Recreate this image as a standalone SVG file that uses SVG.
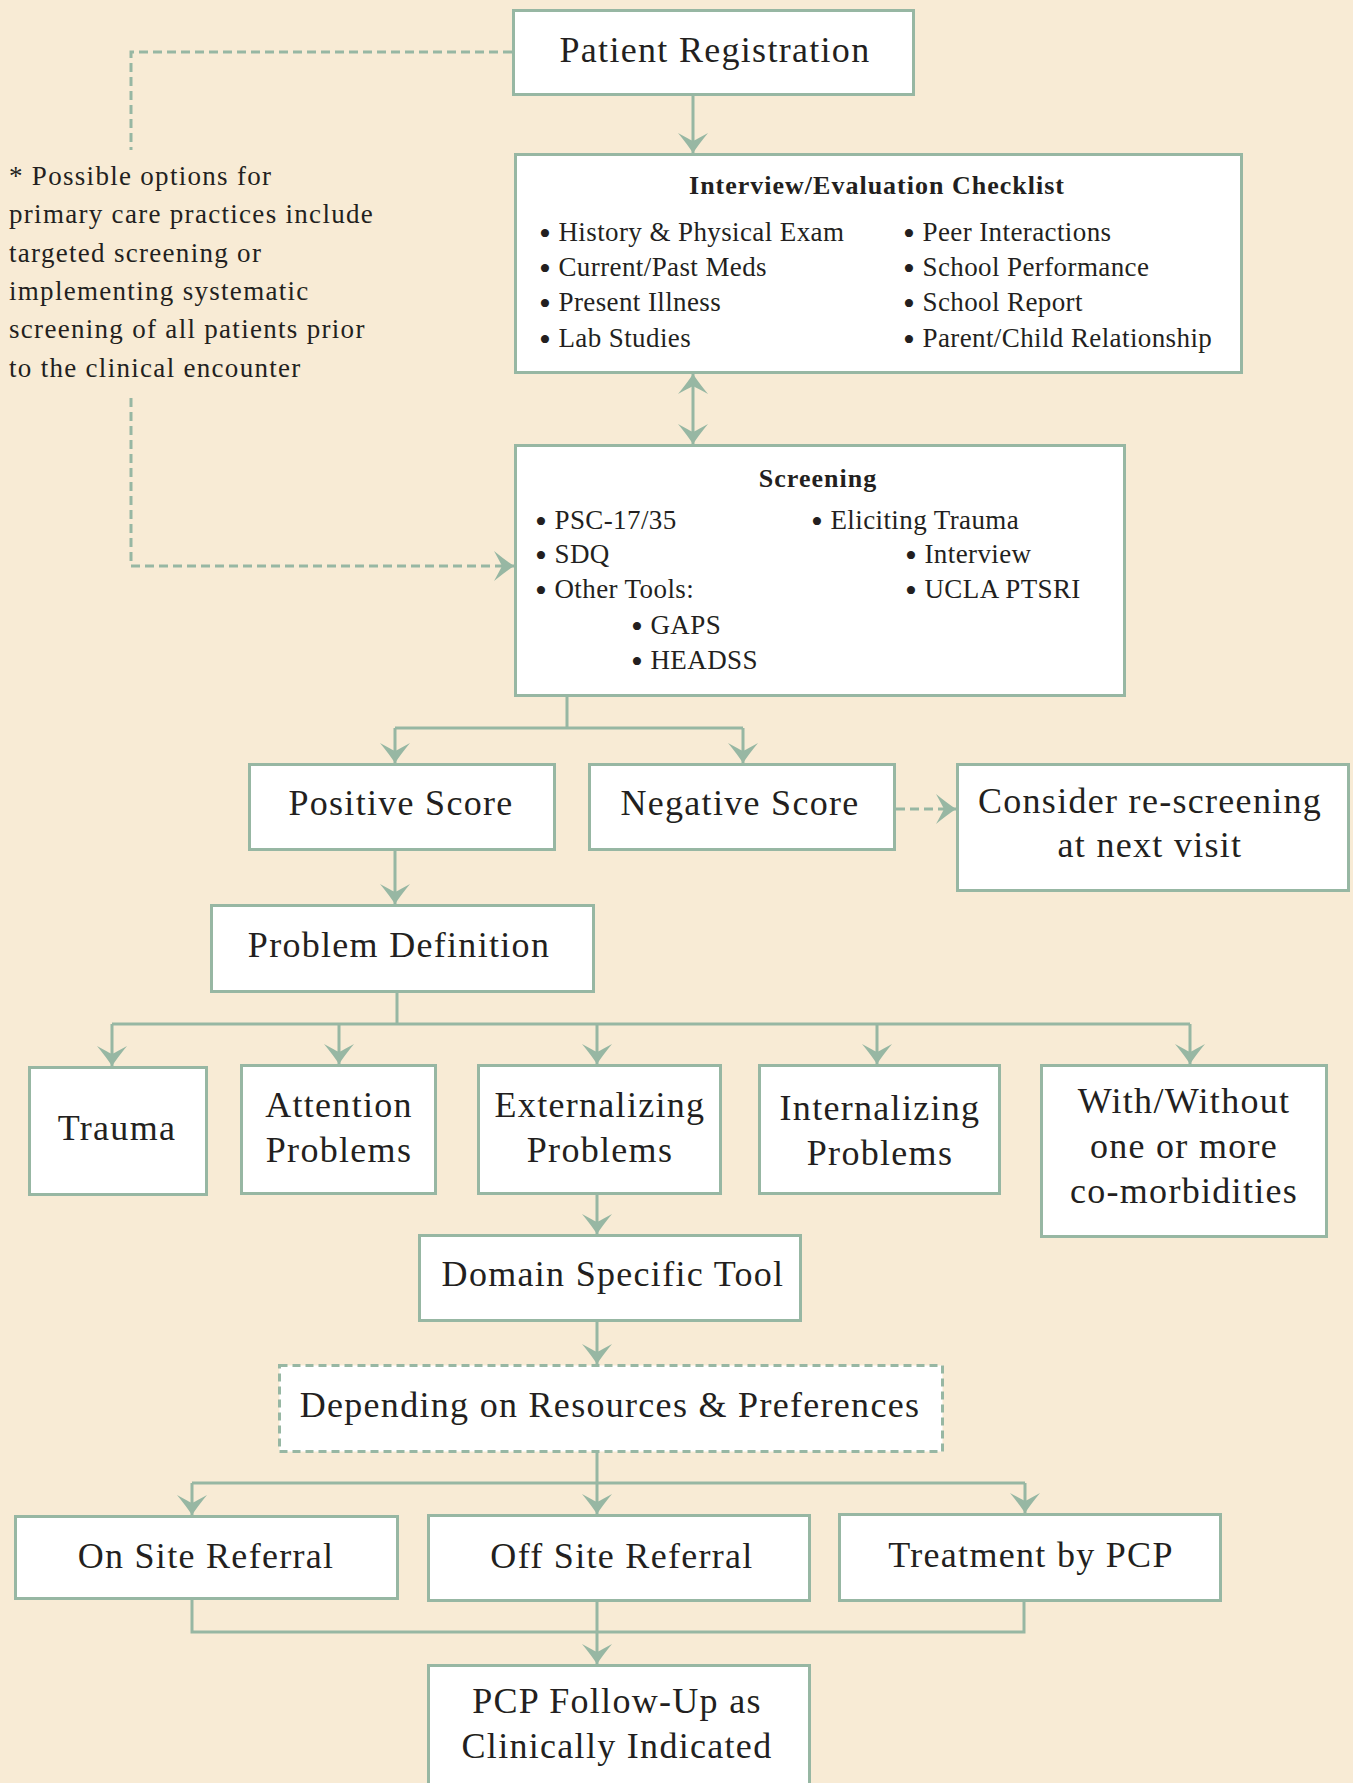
<svg xmlns="http://www.w3.org/2000/svg" width="1353" height="1783" viewBox="0 0 1353 1783">
<style>
.bg{fill:#f8ebd5}
.box{fill:#ffffff;stroke:#97b7a3;stroke-width:3}
.dbox{fill:#ffffff;stroke:#97b7a3;stroke-width:3;stroke-dasharray:8 5}
.ln{fill:none;stroke:#97b7a3;stroke-width:3}
.dl{fill:none;stroke:#97b7a3;stroke-width:3;stroke-dasharray:9 5}
text{font-family:"Liberation Serif","Times New Roman",serif;fill:#231f20}
.big{font-size:36px;letter-spacing:1.3px;text-anchor:middle}
.ttl{font-size:26px;font-weight:bold;letter-spacing:1px;text-anchor:middle}
.it{font-size:27px;letter-spacing:0.4px}
.b{font-size:34px;baseline-shift:-4px}
.note{font-size:27px;letter-spacing:1.3px}
</style>
<defs>
<marker id="ah" markerUnits="userSpaceOnUse" viewBox="-21 -16 22 32" markerWidth="22" markerHeight="32" refX="0" refY="0" orient="auto">
<path d="M0,0 Q-9,-6 -20,-15 Q-15,-6 -12,0 Q-15,6 -20,15 Q-9,6 0,0 Z" fill="#97b7a3"/>
</marker>
<marker id="as" markerUnits="userSpaceOnUse" viewBox="-21 -16 22 32" markerWidth="22" markerHeight="32" refX="0" refY="0" orient="auto-start-reverse">
<path d="M0,0 Q-9,-6 -20,-15 Q-15,-6 -12,0 Q-15,6 -20,15 Q-9,6 0,0 Z" fill="#97b7a3"/>
</marker>
</defs>
<rect class="bg" x="0" y="0" width="1353" height="1783"/>

<g id="connectors">
<path class="ln" d="M693,96 V153" marker-end="url(#ah)"/>
<path class="ln" d="M693,374 V444" marker-start="url(#as)" marker-end="url(#as)"/>
<path class="ln" d="M567,697 V728"/>
<path class="ln" d="M395,728 H743"/>
<path class="ln" d="M395,728 V763" marker-end="url(#ah)"/>
<path class="ln" d="M743,728 V763" marker-end="url(#ah)"/>
<path class="dl" d="M896,809 H956" marker-end="url(#ah)"/>
<path class="ln" d="M395,851 V904" marker-end="url(#ah)"/>
<path class="ln" d="M397,993 V1024"/>
<path class="ln" d="M112,1024 H1190"/>
<path class="ln" d="M112,1024 V1066" marker-end="url(#ah)"/>
<path class="ln" d="M339,1024 V1064" marker-end="url(#ah)"/>
<path class="ln" d="M597,1024 V1064" marker-end="url(#ah)"/>
<path class="ln" d="M877,1024 V1064" marker-end="url(#ah)"/>
<path class="ln" d="M1190,1024 V1064" marker-end="url(#ah)"/>
<path class="ln" d="M597,1195 V1234" marker-end="url(#ah)"/>
<path class="ln" d="M597,1322 V1364" marker-end="url(#ah)"/>
<path class="ln" d="M597,1453 V1483"/>
<path class="ln" d="M192,1483 H1025"/>
<path class="ln" d="M192,1483 V1515" marker-end="url(#ah)"/>
<path class="ln" d="M597,1483 V1514" marker-end="url(#ah)"/>
<path class="ln" d="M1025,1483 V1513" marker-end="url(#ah)"/>
<path class="ln" d="M192,1600 V1632 H1024 V1602"/>
<path class="ln" d="M597,1602 V1664" marker-end="url(#ah)"/>
<path class="dl" d="M512,52 H131 V150"/>
<path class="dl" d="M131,398 V566 H514" marker-end="url(#ah)"/>
</g>

<g id="note">
<text class="note" x="9" y="185">* Possible options for</text>
<text class="note" x="9" y="223">primary care practices include</text>
<text class="note" x="9" y="262">targeted screening or</text>
<text class="note" x="9" y="300">implementing systematic</text>
<text class="note" x="9" y="338">screening of all patients prior</text>
<text class="note" x="9" y="377">to the clinical encounter</text>
</g>

<g id="patient-registration">
<rect class="box" x="513.5" y="10.5" width="400" height="84"/>
<text class="big" x="715" y="62">Patient Registration</text>
</g>

<g id="interview-checklist">
<rect class="box" x="515.5" y="154.5" width="726" height="218"/>
<text class="ttl" x="877" y="194">Interview/Evaluation Checklist</text>
<text class="it" x="539" y="241"><tspan class="b">•</tspan> History &amp; Physical Exam</text>
<text class="it" x="539" y="276"><tspan class="b">•</tspan> Current/Past Meds</text>
<text class="it" x="539" y="311"><tspan class="b">•</tspan> Present Illness</text>
<text class="it" x="539" y="347"><tspan class="b">•</tspan> Lab Studies</text>
<text class="it" x="903" y="241"><tspan class="b">•</tspan> Peer Interactions</text>
<text class="it" x="903" y="276"><tspan class="b">•</tspan> School Performance</text>
<text class="it" x="903" y="311"><tspan class="b">•</tspan> School Report</text>
<text class="it" x="903" y="347"><tspan class="b">•</tspan> Parent/Child Relationship</text>
</g>

<g id="screening">
<rect class="box" x="515.5" y="445.5" width="609" height="250"/>
<text class="ttl" x="818" y="487">Screening</text>
<text class="it" x="535" y="529"><tspan class="b">•</tspan> PSC-17/35</text>
<text class="it" x="535" y="563"><tspan class="b">•</tspan> SDQ</text>
<text class="it" x="535" y="598"><tspan class="b">•</tspan> Other Tools:</text>
<text class="it" x="631" y="634"><tspan class="b">•</tspan> GAPS</text>
<text class="it" x="631" y="669"><tspan class="b">•</tspan> HEADSS</text>
<text class="it" x="811" y="529"><tspan class="b">•</tspan> Eliciting Trauma</text>
<text class="it" x="905" y="563"><tspan class="b">•</tspan> Interview</text>
<text class="it" x="905" y="598"><tspan class="b">•</tspan> UCLA PTSRI</text>
</g>

<g id="positive-score">
<rect class="box" x="249.5" y="764.5" width="305" height="85"/>
<text class="big" x="401" y="815">Positive Score</text>
</g>

<g id="negative-score">
<rect class="box" x="589.5" y="764.5" width="305" height="85"/>
<text class="big" x="740" y="815">Negative Score</text>
</g>

<g id="consider-rescreening">
<rect class="box" x="957.5" y="764.5" width="391" height="126"/>
<text class="big" x="1150" y="813">Consider re-screening</text>
<text class="big" x="1150" y="857">at next visit</text>
</g>

<g id="problem-definition">
<rect class="box" x="211.5" y="905.5" width="382" height="86"/>
<text class="big" x="399" y="957">Problem Definition</text>
</g>

<g id="trauma">
<rect class="box" x="29.5" y="1067.5" width="177" height="127"/>
<text class="big" x="117" y="1140">Trauma</text>
</g>

<g id="attention-problems">
<rect class="box" x="241.5" y="1065.5" width="194" height="128"/>
<text class="big" x="339" y="1117">Attention</text>
<text class="big" x="339" y="1162">Problems</text>
</g>

<g id="externalizing-problems">
<rect class="box" x="478.5" y="1065.5" width="242" height="128"/>
<text class="big" x="600" y="1117">Externalizing</text>
<text class="big" x="600" y="1162">Problems</text>
</g>

<g id="internalizing-problems">
<rect class="box" x="759.5" y="1065.5" width="240" height="128"/>
<text class="big" x="880" y="1120">Internalizing</text>
<text class="big" x="880" y="1165">Problems</text>
</g>

<g id="comorbidities">
<rect class="box" x="1041.5" y="1065.5" width="285" height="171"/>
<text class="big" x="1184" y="1113">With/Without</text>
<text class="big" x="1184" y="1158">one or more</text>
<text class="big" x="1184" y="1203">co-morbidities</text>
</g>

<g id="domain-specific-tool">
<rect class="box" x="419.5" y="1235.5" width="381" height="85"/>
<text class="big" x="613" y="1286">Domain Specific Tool</text>
</g>

<g id="depending-resources">
<rect class="dbox" x="279.5" y="1365.5" width="663" height="86"/>
<text class="big" x="610" y="1417">Depending on Resources &amp; Preferences</text>
</g>

<g id="on-site-referral">
<rect class="box" x="15.5" y="1516.5" width="382" height="82"/>
<text class="big" x="206" y="1568">On Site Referral</text>
</g>

<g id="off-site-referral">
<rect class="box" x="428.5" y="1515.5" width="381" height="85"/>
<text class="big" x="622" y="1568">Off Site Referral</text>
</g>

<g id="treatment-by-pcp">
<rect class="box" x="839.5" y="1514.5" width="381" height="86"/>
<text class="big" x="1031" y="1567">Treatment by PCP</text>
</g>

<g id="pcp-follow-up">
<rect class="box" x="428.5" y="1665.5" width="381" height="140"/>
<text class="big" x="617" y="1713">PCP Follow-Up as</text>
<text class="big" x="617" y="1758">Clinically Indicated</text>
</g>
</svg>
